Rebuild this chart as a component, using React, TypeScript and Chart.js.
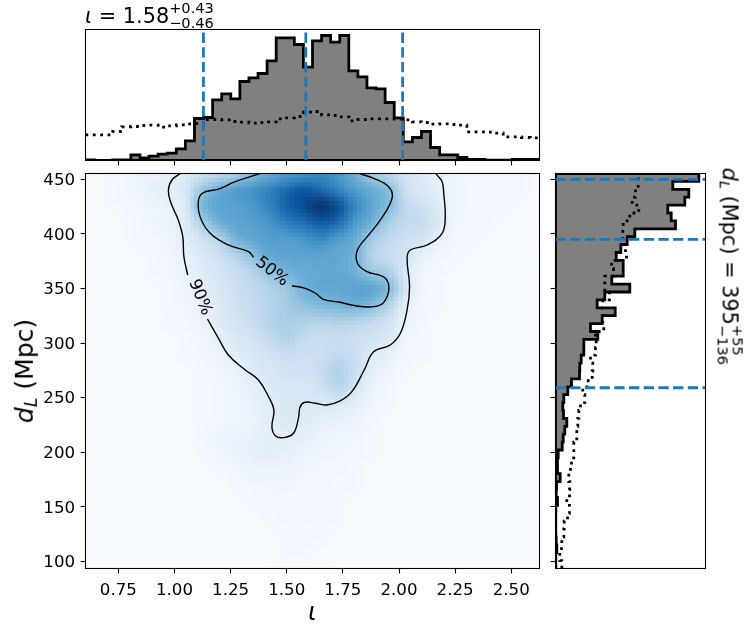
import { useEffect, useRef } from 'react';
import { Chart, registerables } from 'chart.js';

Chart.register(...registerables);

const FONT = '"DejaVu Sans"';
Chart.defaults.font.family = FONT;
Chart.defaults.color = '#000';

const lMin = 0.6038;
const lMax = 2.6257;
const dMin = 93.4;
const dMax = 455.3;
const lTicks = [0.75, 1.0, 1.25, 1.5, 1.75, 2.0, 2.25, 2.5];
const dTicks = [100, 150, 200, 250, 300, 350, 400, 450];
const lLines = [1.129, 1.585, 2.016];
const dLines = [450, 395, 259];

// histogram heights, 50 bins
const lHist = [0.7, 0, 0, 0.7, 0.7, 5.7, 2.7, 4.3, 6.3, 7.3, 11.7, 19.7, 42, 43, 60.7, 66.7, 61.7, 79, 82.7, 87, 99.7, 122.7, 122.7, 116, 93.3, 119.7, 125, 118.3, 125, 89.7, 83.7, 72.7, 71.7, 58, 42.7, 18.7, 23, 29, 13, 5.7, 5.7, 3, 1, 1, 0.3, 0.3, 0.3, 1, 1, 1];
const lPrior = [25.7, 25.7, 25.7, 29, 33.7, 34, 35, 35.3, 33.3, 34.7, 35.7, 36.7, 37, 41, 41, 40.7, 39, 38.3, 37.3, 38, 38.7, 41.7, 42.7, 44, 48.3, 49, 45.7, 45, 43.7, 39.7, 41, 41.7, 41.7, 41.7, 41.3, 40.7, 38.7, 38, 36.3, 36.7, 36, 35.3, 28.7, 28.7, 28.3, 27.3, 23.7, 23.7, 23, 22.7];
const dHist = [0.3, 0.3, 1.3, 0.7, 0.3, 0.3, 0.3, 0.3, 2, 0.7, 1, 4.7, 2, 2, 2.7, 6.7, 7.7, 9.3, 11.3, 8, 7.3, 8.3, 12.3, 16, 24, 24.3, 25.7, 28.3, 28.3, 42.3, 35, 46.7, 59.7, 41.7, 49.3, 74.3, 56.3, 67.7, 67.7, 60.7, 65.3, 71.7, 79.3, 120, 115.7, 112.3, 129.3, 133.3, 117.3, 143.3];
const dPrior = [6.3, 4.3, 6, 6.3, 8.3, 8.7, 12, 14, 11.3, 14, 14.3, 13.3, 15, 16, 18.3, 18.3, 21.3, 21.3, 22.3, 23.3, 25, 29.3, 27.3, 32.7, 36.7, 37.3, 35, 40, 40.7, 40, 48.3, 47.3, 47, 47.3, 54, 49.3, 49.3, 58, 56, 71, 70, 67.3, 67.3, 67.7, 74.3, 83.3, 76.7, 80, 82.7, 82.7];

// density cells, 0-100
const gridL = [0.6, 0.675, 0.75, 0.825, 0.9, 0.975, 1.05, 1.125, 1.2, 1.275, 1.35, 1.425, 1.5, 1.575, 1.65, 1.725, 1.8, 1.875, 1.95, 2.025, 2.1, 2.175, 2.25, 2.325, 2.4, 2.475, 2.55, 2.625];
const gridD = [455, 440, 425, 410, 395, 380, 365, 350, 335, 320, 305, 290, 275, 260, 245, 230, 215, 200, 185, 170, 155, 140, 125, 110, 95];
const density = [
  [0, 1, 2, 4, 6, 7, 12, 20, 26, 34, 44, 52, 58, 62, 66, 60, 50, 36, 28, 20, 13, 8, 4, 3, 2, 2, 2, 1],
  [0, 1, 3, 5, 8, 9, 16, 40, 52, 58, 63, 69, 78, 86, 78, 68, 58, 52, 44, 22, 15, 9, 5, 3, 2, 2, 2, 1],
  [0, 1, 2, 3, 5, 7, 13, 48, 54, 56, 60, 68, 82, 90, 100, 90, 68, 54, 44, 27, 22, 12, 5, 3, 2, 2, 1, 1],
  [0, 0, 1, 2, 4, 6, 12, 34, 50, 54, 57, 61, 70, 76, 84, 78, 60, 50, 34, 26, 26, 14, 4, 3, 2, 1, 1, 1],
  [0, 0, 1, 2, 3, 5, 10, 20, 30, 48, 53, 57, 57, 60, 66, 58, 52, 36, 27, 22, 18, 8, 3, 2, 1, 1, 1, 1],
  [0, 0, 1, 1, 2, 4, 8, 14, 22, 30, 43, 53, 55, 55, 55, 53, 49, 30, 24, 18, 8, 4, 2, 1, 1, 1, 1, 0],
  [0, 0, 0, 1, 2, 3, 6, 11, 17, 23, 30, 41, 47, 51, 53, 53, 49, 39, 33, 15, 4, 3, 1, 1, 1, 1, 0, 0],
  [0, 0, 0, 1, 1, 2, 5, 10, 15, 22, 27, 31, 38, 49, 53, 53, 55, 55, 47, 18, 4, 2, 1, 1, 1, 0, 0, 0],
  [0, 0, 0, 0, 1, 2, 4, 8, 13, 20, 26, 30, 35, 41, 45, 47, 49, 45, 31, 10, 3, 2, 1, 1, 0, 0, 0, 0],
  [0, 0, 0, 0, 1, 2, 3, 6, 12, 18, 24, 30, 34, 32, 30, 32, 30, 26, 20, 7, 3, 1, 1, 0, 0, 0, 0, 0],
  [0, 0, 0, 0, 1, 1, 2, 4, 9, 14, 20, 26, 32, 26, 24, 24, 22, 20, 14, 5, 2, 1, 1, 0, 0, 0, 0, 0],
  [0, 0, 0, 0, 0, 1, 2, 3, 6, 11, 16, 20, 24, 22, 22, 26, 24, 14, 9, 3, 2, 1, 0, 0, 0, 0, 0, 0],
  [0, 0, 0, 0, 0, 1, 1, 2, 4, 7, 12, 16, 20, 20, 24, 32, 24, 10, 5, 2, 1, 1, 0, 0, 0, 0, 0, 0],
  [0, 0, 0, 0, 0, 0, 1, 2, 3, 5, 9, 14, 16, 16, 20, 30, 20, 7, 3, 1, 1, 0, 0, 0, 0, 0, 0, 0],
  [0, 0, 0, 0, 0, 0, 1, 2, 3, 4, 7, 11, 15, 15, 14, 16, 10, 5, 2, 1, 1, 0, 0, 0, 0, 0, 0, 0],
  [0, 0, 0, 0, 0, 0, 1, 2, 3, 5, 6, 10, 14, 13, 9, 8, 6, 3, 1, 1, 0, 0, 0, 0, 0, 0, 0, 0],
  [0, 0, 0, 0, 0, 0, 1, 3, 5, 6, 7, 10, 11, 9, 6, 5, 4, 2, 1, 1, 0, 0, 0, 0, 0, 0, 0, 0],
  [0, 0, 0, 0, 0, 0, 0, 2, 4, 7, 8, 9, 8, 6, 4, 4, 3, 2, 1, 0, 0, 0, 0, 0, 0, 0, 0, 0],
  [0, 0, 0, 0, 0, 0, 0, 1, 2, 4, 6, 6, 6, 4, 3, 3, 2, 1, 1, 0, 0, 0, 0, 0, 0, 0, 0, 0],
  [0, 0, 0, 0, 0, 0, 0, 0, 1, 2, 3, 4, 4, 3, 3, 2, 2, 1, 0, 0, 0, 0, 0, 0, 0, 0, 0, 0],
  [0, 0, 0, 0, 0, 0, 0, 0, 0, 1, 2, 3, 3, 3, 2, 2, 1, 1, 0, 0, 0, 0, 0, 0, 0, 0, 0, 0],
  [0, 0, 0, 0, 0, 0, 0, 0, 0, 0, 1, 2, 3, 3, 2, 2, 1, 1, 0, 0, 0, 0, 0, 0, 0, 0, 0, 0],
  [0, 0, 0, 0, 0, 0, 0, 0, 0, 0, 1, 1, 2, 2, 2, 1, 1, 0, 0, 0, 0, 0, 0, 0, 0, 0, 0, 0],
  [0, 0, 0, 0, 0, 0, 0, 0, 0, 0, 0, 1, 2, 2, 1, 1, 0, 0, 0, 0, 0, 0, 0, 0, 0, 0, 0, 0],
  [0, 0, 0, 0, 0, 0, 0, 0, 0, 0, 0, 0, 1, 1, 1, 0, 0, 0, 0, 0, 0, 0, 0, 0, 0, 0, 0, 0],
];

// contours, [iota, dL], broken where the labels sit
const contour90a = [[1.028, 455.5], [0.991, 450], [0.973, 440.2], [0.985, 428], [1.017, 412.7], [1.037, 397.4], [1.042, 379.1], [1.059, 362.3]];
const contour90b = [[1.147, 322], [1.196, 304.3], [1.24, 289], [1.313, 275.7], [1.374, 266.1], [1.419, 250.8], [1.443, 238.6], [1.434, 223.3], [1.449, 215.1], [1.486, 213.3], [1.53, 217.3], [1.552, 231], [1.56, 241.7], [1.582, 245.7], [1.627, 244.8], [1.679, 243.2], [1.738, 246.9], [1.79, 255.4], [1.846, 275.7], [1.887, 292], [1.961, 298.2], [2.006, 308.9], [2.036, 330.3], [2.047, 351.6], [2.036, 377.6], [2.05, 385.2], [2.125, 389.8], [2.192, 400.5], [2.206, 415.8], [2.199, 437.2], [2.192, 447.8], [2.165, 454.9]];
const contour50a = [[1.389, 455.8], [1.27, 447.8], [1.196, 440.9], [1.129, 437.8], [1.107, 431], [1.114, 415.8], [1.159, 400.5], [1.24, 389.8], [1.33, 383.7], [1.352, 378.6]];
const contour50b = [[1.523, 352.5], [1.582, 350.1], [1.627, 345.8], [1.664, 340], [1.738, 337.3], [1.813, 333.9], [1.887, 333.3], [1.931, 337], [1.955, 350.1], [1.934, 360.2], [1.857, 365.4], [1.815, 373.1], [1.815, 385.2], [1.865, 399], [1.917, 412.7], [1.969, 432.6], [1.954, 443.2], [1.887, 450.9], [1.813, 455.8]];
const contourLabels = [
  { text: '50%', l: 1.434, d: 365.4, angle: 38 },
  { text: '90%', l: 1.114, d: 341.9, angle: 68 },
];

const blues = [[247, 251, 255], [222, 235, 247], [198, 219, 239], [158, 202, 225], [107, 174, 214], [66, 146, 198], [33, 113, 181], [8, 81, 156], [8, 48, 107]];

function bluesAt(v: number) {
  const t = Math.min(v / 100, 1) * (blues.length - 1);
  const i = Math.min(Math.floor(t), blues.length - 2);
  return blues[i].map((c, k) => c + (blues[i + 1][k] - c) * (t - i));
}

const toPoints = (pairs: number[][]) => pairs.map(([x, y]) => ({ x, y }));

function edgesOf(min: number, max: number) {
  const out: number[] = [];
  for (let i = 0; i <= 50; i++) out.push(min + ((max - min) * i) / 50);
  return out;
}

// [edge, height] pairs of a step histogram
function stepPairs(values: number[], edges: number[]) {
  const pairs = values.map((v, i) => [edges[i], v]);
  pairs.push([edges[50], values[49]]);
  return pairs;
}

const framePlugin = {
  id: 'frame',
  afterDraw(chart: any) {
    const { ctx, chartArea: a } = chart;
    ctx.save();
    ctx.strokeStyle = '#000';
    ctx.lineWidth = 1.1;
    ctx.strokeRect(a.left, a.top, a.right - a.left, a.bottom - a.top);
    ctx.restore();
  },
};

const heatmapPlugin = {
  id: 'heatmap',
  beforeDatasetsDraw(chart: any) {
    const { ctx, chartArea: a, scales } = chart;
    const off = document.createElement('canvas');
    off.width = gridL.length;
    off.height = gridD.length;
    const octx = off.getContext('2d')!;
    const img = octx.createImageData(off.width, off.height);
    density.forEach((row, r) => row.forEach((v, c) => {
      const [red, g, b] = bluesAt(v);
      const at = (r * off.width + c) * 4;
      img.data[at] = red;
      img.data[at + 1] = g;
      img.data[at + 2] = b;
      img.data[at + 3] = 255;
    }));
    octx.putImageData(img, 0, 0);
    const x0 = scales.x.getPixelForValue(gridL[0] - 0.0375);
    const x1 = scales.x.getPixelForValue(gridL[gridL.length - 1] + 0.0375);
    const y0 = scales.y.getPixelForValue(gridD[0] + 7.5);
    const y1 = scales.y.getPixelForValue(gridD[gridD.length - 1] - 7.5);

    // smooth the cells, then show them as the small blocks of the picture
    const mid = document.createElement('canvas');
    mid.width = Math.round((x1 - x0) / 4.54);
    mid.height = Math.round((y1 - y0) / 3.96);
    const mctx = mid.getContext('2d')!;
    mctx.imageSmoothingEnabled = true;
    mctx.imageSmoothingQuality = 'high';
    mctx.drawImage(off, 0, 0, mid.width, mid.height);

    ctx.save();
    ctx.beginPath();
    ctx.rect(a.left, a.top, a.right - a.left, a.bottom - a.top);
    ctx.clip();
    ctx.imageSmoothingEnabled = false;
    ctx.drawImage(mid, x0, y0, x1 - x0, y1 - y0);
    ctx.restore();
  },
  afterDatasetsDraw(chart: any) {
    const { ctx, scales } = chart;
    contourLabels.forEach(({ text, l, d, angle }) => {
      ctx.save();
      ctx.translate(scales.x.getPixelForValue(l), scales.y.getPixelForValue(d));
      ctx.rotate((angle * Math.PI) / 180);
      ctx.font = `16.67px ${FONT}`;
      ctx.fillStyle = '#000';
      ctx.textAlign = 'center';
      ctx.textBaseline = 'middle';
      ctx.fillText(text, 0, 0);
      ctx.restore();
    });
  },
};

function fixedTicks(values: number[]) {
  return (scale: any) => {
    scale.ticks = values.map((value) => ({ value }));
  };
}

// size: room kept for the tick labels, tick label clipping follows the scale box
function axis(min: number, max: number, values: number[], size: number, digits: number, padding = 4, labelOffset = 0) {
  return {
    type: 'linear',
    min,
    max,
    afterBuildTicks: fixedTicks(values),
    afterFit: (scale: any) => {
      if (scale.isHorizontal()) scale.height = size;
      else scale.width = size;
    },
    border: { display: false },
    grid: { drawOnChartArea: false, drawTicks: true, tickLength: 4.9, tickColor: '#000', tickWidth: 1.1 },
    ticks: {
      display: size > 0,
      autoSkip: false,
      maxRotation: 0,
      padding,
      labelOffset,
      font: { size: 16.67 },
      color: '#000',
      callback: (v: any) => Number(v).toFixed(digits),
    },
  };
}

function baseOptions(padding: any, scales: any, indexAxis: string = 'x') {
  return {
    animation: false,
    responsive: false,
    indexAxis,
    layout: { padding },
    plugins: { legend: { display: false }, tooltip: { enabled: false } },
    elements: { point: { radius: 0 } },
    scales,
  };
}

function lineSet(data: any[], extra: any) {
  return { data, borderColor: '#000', pointRadius: 0, clip: 0, fill: false, ...extra };
}

const blueLine = { borderColor: '#1f77b4', borderWidth: 2.78, borderDash: [10.3, 4.4] };

function Label({ x, y, rotate = 0, size, children }: any) {
  return (
    <div
      style={{
        position: 'absolute',
        left: x,
        top: y - 0.846 * size,
        fontFamily: FONT,
        fontSize: size,
        lineHeight: 1,
        color: '#000',
        whiteSpace: 'nowrap',
        transformOrigin: `0 ${0.846 * size}px`,
        transform: `rotate(${rotate}deg)`,
      }}
    >
      {children}
    </div>
  );
}

function Scripts({ sup, sub, size, raise, drop }: any) {
  const s = size * 0.7;
  const piece = (top: number, text: string) => (
    <span style={{ position: 'absolute', left: 0, top, fontSize: s, lineHeight: 1 }}>{text}</span>
  );
  return (
    <span style={{ position: 'relative', display: 'inline-block', width: 0, height: 0 }}>
      {piece(-0.846 * s - raise, sup)}
      {piece(-0.846 * s + drop, sub)}
    </span>
  );
}

function DL() {
  return (
    <>
      <i>d</i>
      <span style={{ fontSize: '0.7em', fontStyle: 'italic', position: 'relative', top: '0.22em' }}>L</span>
    </>
  );
}

export default function App() {
  const topRef = useRef<HTMLCanvasElement>(null);
  const mainRef = useRef<HTMLCanvasElement>(null);
  const rightRef = useRef<HTMLCanvasElement>(null);

  useEffect(() => {
    const lEdges = edgesOf(lMin, lMax);
    const dEdges = edgesOf(dMin, dMax);

    // first dataset ends up on top in Chart.js, so the fill comes last
    const lSteps = toPoints(stepPairs(lHist, lEdges));
    const lClosed = [{ x: lMin, y: 0 }, ...lSteps, { x: lMax, y: 0 }];
    const top = new Chart(topRef.current!, {
      type: 'line',
      data: {
        datasets: [
          ...lLines.map((l) => lineSet([{ x: l, y: 0 }, { x: l, y: 131 }], blueLine)),
          lineSet(toPoints(stepPairs(lPrior, lEdges)), { stepped: true, borderWidth: 2.78, borderDash: [2.78, 4.58] }),
          lineSet([{ x: lMin, y: 0 }, { x: lMax, y: 0 }], { borderWidth: 2.78 }),
          lineSet([...lClosed], { stepped: true, borderWidth: 2.78 }),
          lineSet([...lClosed], { stepped: true, borderWidth: 0, backgroundColor: '#808080', fill: 'origin' }),
        ],
      },
      options: baseOptions(
        { left: 85.5, right: 213.5, top: 29.5, bottom: 474.5 },
        {
          x: axis(lMin, lMax, lTicks, 0, 2),
          y: { type: 'linear', display: false, min: 0, max: 131 },
        },
      ) as any,
      plugins: [framePlugin],
    } as any);

    const main = new Chart(mainRef.current!, {
      type: 'scatter',
      data: {
        datasets: [contour90a, contour90b, contour50a, contour50b].map((c) =>
          lineSet(toPoints(c), { showLine: true, borderWidth: 1.39, tension: 0.4 }),
        ),
      },
      options: baseOptions(
        { left: 0, right: 213.5, top: 173.5, bottom: 0 },
        {
          x: axis(lMin, lMax, lTicks, 66.5, 2, 7),
          y: axis(dMin, dMax, dTicks, 85.5, 0, 5.5, 1.5),
        },
      ) as any,
      plugins: [heatmapPlugin, framePlugin],
    } as any);

    const flip = (pairs: number[][]) => pairs.map(([edge, v]) => [v, edge]);
    const dSteps = flip(stepPairs(dHist, dEdges));
    const dClosed = toPoints([[0, dMin], ...dSteps, [0, dMax]]);
    const right = new Chart(rightRef.current!, {
      type: 'line',
      data: {
        datasets: [
          ...dLines.map((d) => lineSet([{ x: 0, y: d }, { x: 150, y: d }], blueLine)),
          lineSet(toPoints(flip(stepPairs(dPrior, dEdges))), { stepped: 'after', borderWidth: 2.78, borderDash: [2.78, 4.58] }),
          lineSet([{ x: 0, y: dMin }, { x: 0, y: dMax }], { borderWidth: 2.78 }),
          lineSet([...dClosed], { stepped: 'after', borderWidth: 2.78 }),
          lineSet([...dClosed], { stepped: 'after', borderWidth: 0, backgroundColor: '#808080', fill: 'origin' }),
        ],
      },
      options: baseOptions(
        { left: 555.5, right: 47.5, top: 173.5, bottom: 66.5 },
        {
          x: { type: 'linear', display: false, min: 0, max: 150 },
          y: axis(dMin, dMax, dTicks, 0, 0),
        },
        'y',
      ) as any,
      plugins: [framePlugin],
    } as any);

    return () => {
      top.destroy();
      main.destroy();
      right.destroy();
    };
  }, []);

  const canvasStyle: any = { position: 'absolute', left: 0, top: 0, display: 'block' };

  return (
    <div style={{ position: 'absolute', left: 0, top: 0, width: 753, height: 635, overflow: 'hidden', background: '#fff' }}>
      <canvas ref={topRef} width={753} height={635} style={canvasStyle} />
      <canvas ref={mainRef} width={753} height={635} style={canvasStyle} />
      <canvas ref={rightRef} width={753} height={635} style={canvasStyle} />
      <Label x={85} y={23.5} size={20.83}>
        <i>ι</i> = 1.58<Scripts sup="+0.43" sub="−0.46" size={20.83} raise={10} drop={5} />
      </Label>
      <Label x={308} y={620} size={25}>
        <i>ι</i>
      </Label>
      <Label x={33} y={423} rotate={-90} size={25}>
        <DL /> (Mpc)
      </Label>
      <Label x={722} y={168} rotate={90} size={20.83}>
        <DL /> (Mpc) = 395<Scripts sup="+55" sub="−136" size={20.83} raise={10} drop={5} />
      </Label>
    </div>
  );
}
